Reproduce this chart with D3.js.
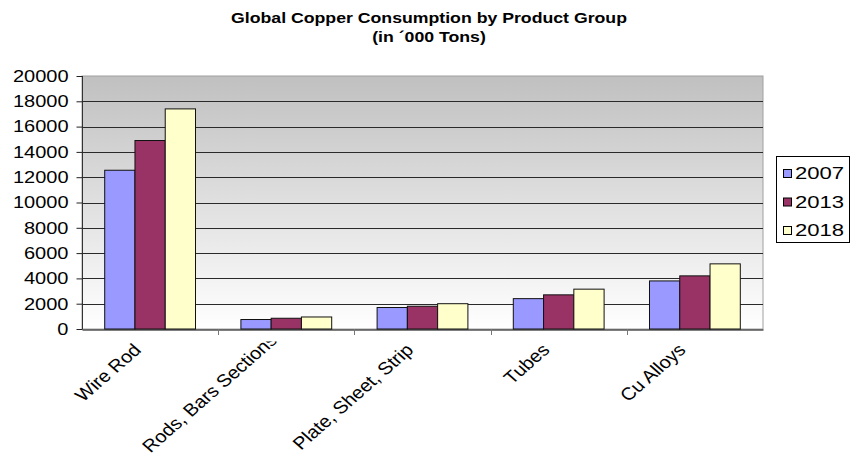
<!DOCTYPE html>
<html>
<head>
<meta charset="utf-8">
<script src="https://cdn.jsdelivr.net/npm/d3@7"></script>
<style>
  html, body { margin: 0; padding: 0; background: #fff; }
  svg { display: block; font-family: "Liberation Sans", Arial, sans-serif; }
</style>
</head>
<body>
<svg id="chart" width="861" height="455"></svg>
<script>
// Global copper consumption by product group, thousand tons
const categories = ["Wire Rod", "Rods, Bars Sections", "Plate, Sheet, Strip", "Tubes", "Cu Alloys"];
const years = ["2007", "2013", "2018"];
const values2007 = [12550, 750, 1700, 2400, 3800];
const values2013 = [14900, 850, 1800, 2700, 4200];
const values2018 = [17400, 950, 2000, 3150, 5150];
const yTicks = [0, 2000, 4000, 6000, 8000, 10000, 12000, 14000, 16000, 18000, 20000];
const titleLines = ["Global Copper Consumption by Product Group", "(in \u00B4000 Tons)"];

const seriesValues = [values2007, values2013, values2018];
const colors = ["#9999FF", "#993366", "#FFFFCC"];

const svg = d3.select("#chart");
const W = 861, H = 455;
const plot = { left: 82, right: 763, top: 76, bottom: 329 };
const textStretch = 1.25;

const x = d3.scaleBand().domain(categories).range([plot.left, plot.right]).paddingInner(0).paddingOuter(0);
const y = d3.scaleLinear().domain([0, 20000]).range([plot.bottom, plot.top]);

// bars take 3 of 4.5 slots per category (gap width 150%)
const barW = x.bandwidth() / 4.5;
const xs = d3.scaleBand().domain(years).range([0.75 * barW, 3.75 * barW]).padding(0);

// plot area with grey-to-white gradient
const defs = svg.append("defs");
const grad = defs.append("linearGradient").attr("id", "bg").attr("x1", 0).attr("y1", 0).attr("x2", 0).attr("y2", 1);
grad.append("stop").attr("offset", "0%").attr("stop-color", "#c0c0c0");
grad.append("stop").attr("offset", "100%").attr("stop-color", "#ffffff");

svg.append("rect")
  .attr("x", plot.left).attr("y", plot.top)
  .attr("width", plot.right - plot.left).attr("height", plot.bottom - plot.top)
  .attr("fill", "url(#bg)")
  .attr("stroke", "#a0a0a0").attr("stroke-width", 1);

// horizontal gridlines
svg.append("g").selectAll("line")
  .data(yTicks.filter(t => t > 0 && t < 20000))
  .join("line")
  .attr("x1", plot.left).attr("x2", plot.right)
  .attr("y1", d => Math.round(y(d)) + 0.5).attr("y2", d => Math.round(y(d)) + 0.5)
  .attr("stroke", "#2a2a2a").attr("stroke-width", 1);

// bars
const groups = svg.append("g").selectAll("g")
  .data(categories)
  .join("g")
  .attr("transform", d => `translate(${x(d)},0)`);

groups.selectAll("rect")
  .data((d, i) => years.map((yr, s) => ({ yr, s, v: seriesValues[s][i] })))
  .join("rect")
  .attr("x", d => xs(d.yr))
  .attr("y", d => y(d.v))
  .attr("width", xs.bandwidth())
  .attr("height", d => y(0) - y(d.v))
  .attr("fill", d => colors[d.s])
  .attr("stroke", "#111").attr("stroke-width", 1);

// y axis
const yAxis = svg.append("g")
  .attr("transform", `translate(${plot.left + 0.5},0)`)
  .call(d3.axisLeft(y).tickValues(yTicks).tickSize(6).tickPadding(0).tickFormat(d3.format("d")));
yAxis.select(".domain").attr("stroke", "#333").attr("d", `M0,${plot.top}V${plot.bottom}`);
yAxis.selectAll(".tick line").attr("stroke", "#222");
yAxis.selectAll(".tick text")
  .attr("x", null).attr("dy", null)
  .attr("fill", "#000")
  .style("font-size", "16px")
  .attr("text-anchor", "end")
  .attr("dominant-baseline", "central")
  .attr("transform", `translate(-14,0) scale(${textStretch},1)`);

// x axis
const xAxis = svg.append("g")
  .attr("transform", `translate(0,${plot.bottom + 0.5})`)
  .call(d3.axisBottom(x).tickValues([]).tickSizeOuter(0));
xAxis.select(".domain").attr("stroke", "#000");
svg.append("g").selectAll("line")
  .data(categories.slice(1))
  .join("line")
  .attr("x1", d => Math.round(x(d)) + 0.5).attr("x2", d => Math.round(x(d)) + 0.5)
  .attr("y1", plot.bottom).attr("y2", plot.bottom + 6)
  .attr("stroke", "#777");

// rotated category labels; long ones are lifted to stay inside the frame
// and anything reaching above the label band is clipped
const labelStretch = 1.14, labelAngle = 45, labelBaseY = 351;
defs.append("clipPath").attr("id", "labelClip")
  .append("rect").attr("x", 0).attr("y", 341.5).attr("width", W).attr("height", H);

const labels = svg.append("g").attr("clip-path", "url(#labelClip)")
  .selectAll("text")
  .data(categories)
  .join("text")
  .attr("text-anchor", "end")
  .style("font-size", "17.5px")
  .attr("fill", "#000")
  .text(d => d);

labels.attr("transform", function (d) {
  const len = this.getComputedTextLength();
  const drop = len * Math.sin(labelAngle * Math.PI / 180);
  const ay = Math.min(labelBaseY, H - 1.5 - drop);
  return `translate(${x(d) + x.bandwidth() / 2 - 8},${ay}) scale(${labelStretch},1) rotate(${-labelAngle})`;
});

// title
svg.append("g").selectAll("text")
  .data(titleLines)
  .join("text")
  .attr("transform", (d, i) => `translate(429,${23 + i * 19}) scale(1.18,1)`)
  .attr("text-anchor", "middle")
  .style("font-size", "15px").style("font-weight", "bold")
  .attr("fill", "#000")
  .text(d => d);

// legend
const legend = svg.append("g");
legend.append("rect")
  .attr("x", 776.5).attr("y", 156.5).attr("width", 73).attr("height", 86)
  .attr("fill", "#fff").attr("stroke", "#000");
const items = legend.selectAll("g.item")
  .data(years)
  .join("g").attr("class", "item")
  .attr("transform", (d, i) => `translate(783,${173 + i * 28.5})`);
items.append("rect")
  .attr("x", 0.5).attr("y", -3.5).attr("width", 8).attr("height", 8)
  .attr("fill", (d, i) => colors[i]).attr("stroke", "#000");
items.append("text")
  .attr("transform", `translate(12,6) scale(1.3,1)`)
  .style("font-size", "17px")
  .attr("fill", "#000")
  .text(d => d);
</script>
</body>
</html>
